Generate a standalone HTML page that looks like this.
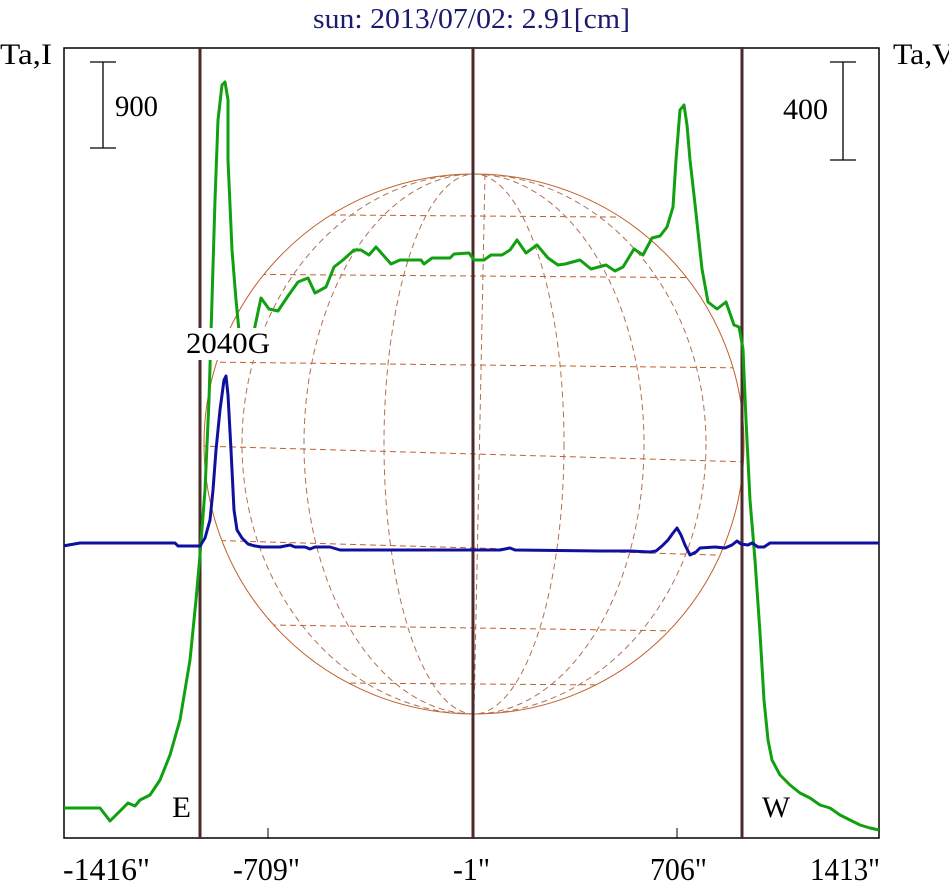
<!DOCTYPE html>
<html><head><meta charset="utf-8"><style>
html,body{margin:0;padding:0;background:#fff;}
svg{display:block;}
text{font-family:"Liberation Serif",serif;}
</style></head><body>
<svg width="949" height="885" viewBox="0 0 949 885" xmlns="http://www.w3.org/2000/svg">
<defs><clipPath id="c"><circle cx="474" cy="444" r="270"/></clipPath>
<clipPath id="p"><rect x="64" y="48" width="816" height="791"/></clipPath></defs>
<rect width="949" height="885" fill="#fff"/>
<text x="313" y="28" font-size="28" fill="#1a1a6e" textLength="317" lengthAdjust="spacingAndGlyphs">sun: 2013/07/02: 2.91[cm]</text>
<text x="0" y="64" font-size="30" textLength="52" lengthAdjust="spacingAndGlyphs">Ta,I</text>
<text x="893" y="64" font-size="30" textLength="62" lengthAdjust="spacingAndGlyphs">Ta,V</text>
<!-- sun -->
<circle cx="474" cy="444" r="270" fill="none" stroke="#c0602a" stroke-width="1"/>
<g clip-path="url(#c)" fill="none" stroke="#c0602a" stroke-width="1" stroke-dasharray="6,4">
<line x1="200" y1="214" x2="750" y2="218"/>
<line x1="200" y1="274" x2="750" y2="278"/>
<line x1="200" y1="362" x2="750" y2="368"/>
<line x1="200" y1="446" x2="750" y2="462"/>
<line x1="200" y1="540" x2="750" y2="556"/>
<line x1="200" y1="624" x2="750" y2="632"/>
<line x1="200" y1="682" x2="750" y2="686"/>
<g stroke="#b07050">
<ellipse cx="474" cy="444" rx="90" ry="270"/>
<ellipse cx="474" cy="444" rx="170" ry="270"/>
<ellipse cx="474" cy="444" rx="232" ry="270"/>
<line x1="485" y1="174" x2="474" y2="714"/>
</g>
</g>
<!-- frame -->
<rect x="64" y="48" width="815" height="790" fill="none" stroke="#000" stroke-width="1.5"/>
<line x1="268" y1="828" x2="268" y2="838" stroke="#000"/>
<line x1="677" y1="828" x2="677" y2="838" stroke="#000"/>
<g stroke="#4a2a2a" stroke-width="3">
<line x1="200" y1="47" x2="200" y2="839"/>
<line x1="473" y1="47" x2="473" y2="839"/>
<line x1="742" y1="47" x2="742" y2="839"/>
</g>
<!-- scale bars -->
<g stroke="#000" stroke-width="1.3">
<line x1="103" y1="62" x2="103" y2="148"/><line x1="90" y1="62" x2="116" y2="62"/><line x1="90" y1="148" x2="116" y2="148"/>
<line x1="843" y1="62" x2="843" y2="160"/><line x1="830" y1="62" x2="856" y2="62"/><line x1="830" y1="160" x2="856" y2="160"/>
</g>
<text x="115" y="116" font-size="30" textLength="43" lengthAdjust="spacingAndGlyphs">900</text>
<text x="783" y="119" font-size="30" textLength="45" lengthAdjust="spacingAndGlyphs">400</text>
<g clip-path="url(#p)" fill="none" stroke-width="3" stroke-linejoin="round">
<polyline stroke="#10a010" points="63,808 100,808 110,821 128,803 135,806 140,800 150,795 160,780 170,755 180,720 190,660 196,600 200,555 205,490 209,400 212,300 215,200 218,120 222,85 225,82 228,100 228,160 232,250 236,300 239,331 247,330 254,331 261,298 269,309 278,311 288,296 298,282 308,278 315,293 326,287 334,267 343,260 354,250 361,250 369,255 376,247 391,264 400,260 421,260 424,264 432,258 450,258 454,254 469,253 474,260 484,260 491,255 502,255 510,250 517,240 526,253 537,245 548,258 558,265 565,264 580,260 591,269 606,265 615,271 623,267 634,249 643,255 652,238 660,236 667,227 673,207 676,160 680,110 684,105 687,125 690,160 695,204 702,269 708,302 717,309 726,302 734,325 739,327 743,349 746,420 750,500 755,560 760,633 764,700 768,740 772,760 780,775 790,785 800,793 810,798 820,805 830,808 840,815 850,820 860,825 870,828 879,830"/>
<polyline stroke="#1010a0" points="63,546 80,543 175,543 178,546 195,546 200,546 205,538 210,520 213,490 216,450 220,410 224,380 226,376 228,395 231,450 234,510 237,530 242,538 248,544 255,546 262,547 280,547 290,545 295,547 305,547 310,549 315,547 330,547 340,550 400,550 450,550 500,550 510,548 515,550 600,551 615,551 630,551 650,552 656,551 662,546 668,540 673,533 677,528 681,535 685,545 690,555 696,552 700,548 715,547 725,548 732,545 737,541 741,544 748,545 752,543 758,547 764,547 770,543 879,543"/>
</g>
<rect x="184" y="328" width="88" height="32" fill="#fff"/>
<text x="186" y="353" font-size="30" textLength="84" lengthAdjust="spacingAndGlyphs">2040G</text>
<text x="172" y="817" font-size="30" textLength="19" lengthAdjust="spacingAndGlyphs">E</text>
<text x="762" y="817" font-size="30" textLength="28" lengthAdjust="spacingAndGlyphs">W</text>
<g font-size="32">
<text x="63" y="880" textLength="87" lengthAdjust="spacingAndGlyphs">-1416"</text>
<text x="233" y="880" textLength="67" lengthAdjust="spacingAndGlyphs">-709"</text>
<text x="453" y="880" textLength="37" lengthAdjust="spacingAndGlyphs">-1"</text>
<text x="650" y="880" textLength="57" lengthAdjust="spacingAndGlyphs">706"</text>
<text x="810" y="880" textLength="70" lengthAdjust="spacingAndGlyphs">1413"</text>
</g>
</svg>
</body></html>
